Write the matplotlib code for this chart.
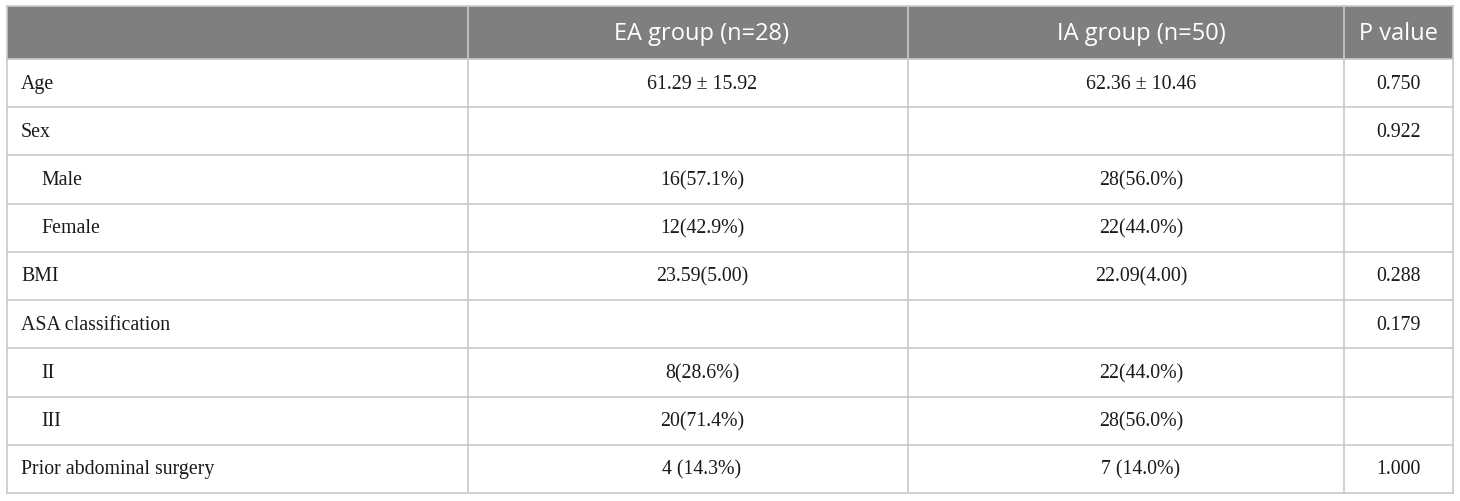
import matplotlib
matplotlib.use("Agg")
import matplotlib.pyplot as plt
from matplotlib.patches import Rectangle

# table content
headers = ["", "EA group (n=28)", "IA group (n=50)", "P value"]
row_labels = ["Age", "Sex", "Male", "Female", "BMI", "ASA classification", "II", "III",
              "Prior abdominal surgery"]
indented = [False, False, True, True, False, False, True, True, False]
ea_values = ["61.29 ± 15.92", "", "16(57.1%)", "12(42.9%)", "23.59(5.00)", "", "8(28.6%)",
             "20(71.4%)", "4 (14.3%)"]
ia_values = ["62.36 ± 10.46", "", "28(56.0%)", "22(44.0%)", "22.09(4.00)", "", "22(44.0%)",
             "28(56.0%)", "7 (14.0%)"]
p_values = ["0.750", "0.922", "", "", "0.288", "0.179", "", "", "1.000"]

W, H = 1460, 502
fig = plt.figure(figsize=(W / 100, H / 100), dpi=100)
ax = fig.add_axes([0, 0, 1, 1])
ax.set_xlim(0, W)
ax.set_ylim(H, 0)
ax.axis("off")

col_x = [7, 468, 908, 1344, 1453]
col_shift = [0, 14, 15, 0]  # text sits a bit right of centre in the wide columns
top, header_h, bottom = 7, 53, 494
n = len(row_labels)
row_h = (bottom - top - header_h) / n
grid_col = "#c9c9c9"
header_bg = "#7f7f7f"

# header band
ax.add_patch(Rectangle((col_x[0], top), col_x[-1] - col_x[0], header_h,
                       facecolor=header_bg, edgecolor="none"))
for j, h in enumerate(headers):
    if h:
        ax.text((col_x[j] + col_x[j + 1]) / 2 + col_shift[j], top + header_h / 2 + 1, h,
                ha="center", va="center", color="white", fontsize=17,
                family="Open Sans")

serif = "Liberation Serif"
body_size = 14.3
for i in range(n):
    yc = top + header_h + (i + 0.5) * row_h
    x0 = col_x[0] + (34 if indented[i] else 14)
    ax.text(x0, yc, row_labels[i], ha="left", va="center", fontsize=body_size, family=serif,
            color="#1a1a1a")
    for j, vals in enumerate([ea_values, ia_values, p_values], start=1):
        if vals[i]:
            ax.text((col_x[j] + col_x[j + 1]) / 2 + col_shift[j], yc, vals[i],
                    ha="center", va="center", fontsize=body_size, family=serif,
                    color="#1a1a1a")

# grid lines
for i in range(n + 1):
    y = top + header_h + i * row_h
    ax.plot([col_x[0], col_x[-1]], [y, y], color=grid_col, lw=1.2)
for x in col_x:
    ax.plot([x, x], [top, bottom], color=grid_col, lw=1.2)
ax.plot([col_x[0], col_x[-1]], [top, top], color=grid_col, lw=1.2)

fig.savefig("out.png", dpi=100)
